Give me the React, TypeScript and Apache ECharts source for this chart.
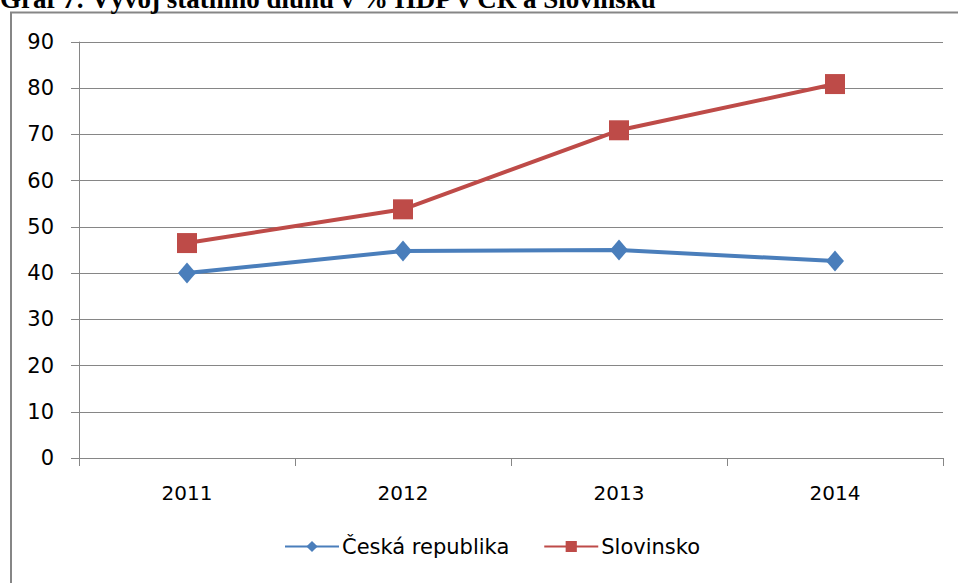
import React, { useEffect, useRef } from "react";
import * as echarts from "echarts";

const categories = ["2011", "2012", "2013", "2014"];
const czechValues = [40.0, 44.8, 45.0, 42.6];
const sloveniaValues = [46.5, 53.8, 70.9, 80.9];
const seriesNames = ["Česká republika", "Slovinsko"];
const titleText = "Graf 7: Vývoj státního dluhu v % HDP v ČR a Slovinsku";

export default function App() {
  const ref = useRef<HTMLDivElement>(null);
  useEffect(() => {
    if (!ref.current) return;
    const chart = echarts.init(ref.current, undefined, { renderer: "svg" });
    const font = "DejaVu Sans";
    chart.setOption({
      animation: false,
      backgroundColor: "#ffffff",
      textStyle: { fontFamily: font },
      graphic: [
        {
          type: "rect",
          shape: { x: 11, y: 12.5, width: 980, height: 620 },
          style: { fill: "none", stroke: "#868686", lineWidth: 2 },
          silent: true,
        },
        {
          type: "text",
          x: 0,
          y: 12,
          style: {
            text: titleText,
            font: "bold 27px 'Liberation Serif'",
            fill: "#000000",
            verticalAlign: "bottom",
          },
        },
      ],
      grid: { left: 79, right: 15, top: 42, bottom: 125, containLabel: false },
      legend: {
        bottom: 21,
        left: 279,
        itemWidth: 54,
        itemHeight: 14,
        itemGap: 34,
        data: seriesNames,
        textStyle: { fontSize: 21, color: "#000000", fontFamily: font, padding: [0, 0, 0, -2] },
      },
      xAxis: {
        type: "category",
        data: categories,
        boundaryGap: true,
        axisLine: { lineStyle: { color: "#868686", width: 1 } },
        axisTick: { show: true, length: 8, lineStyle: { color: "#868686" } },
        axisLabel: { fontSize: 20, color: "#000000", margin: 25, fontFamily: font },
      },
      yAxis: {
        type: "value",
        min: 0,
        max: 90,
        interval: 10,
        axisLine: { show: true, lineStyle: { color: "#868686", width: 1 } },
        axisTick: { show: true, length: 8, lineStyle: { color: "#868686" } },
        axisLabel: { fontSize: 21, color: "#000000", margin: 25, fontFamily: font },
        splitLine: { lineStyle: { color: "#868686", width: 1 } },
      },
      series: [
        {
          name: seriesNames[0],
          type: "line",
          data: czechValues,
          symbol: "diamond",
          symbolSize: [18, 21],
          lineStyle: { color: "#4A7EBB", width: 4 },
          itemStyle: { color: "#4A7EBB" },
        },
        {
          name: seriesNames[1],
          type: "line",
          data: sloveniaValues,
          symbol: "rect",
          symbolSize: 20,
          lineStyle: { color: "#BE4B48", width: 4 },
          itemStyle: { color: "#BE4B48" },
        },
      ],
    });
    return () => chart.dispose();
  }, []);
  return (
    <div
      ref={ref}
      style={{ position: "fixed", left: 0, top: 0, width: 958, height: 583 }}
    />
  );
}
